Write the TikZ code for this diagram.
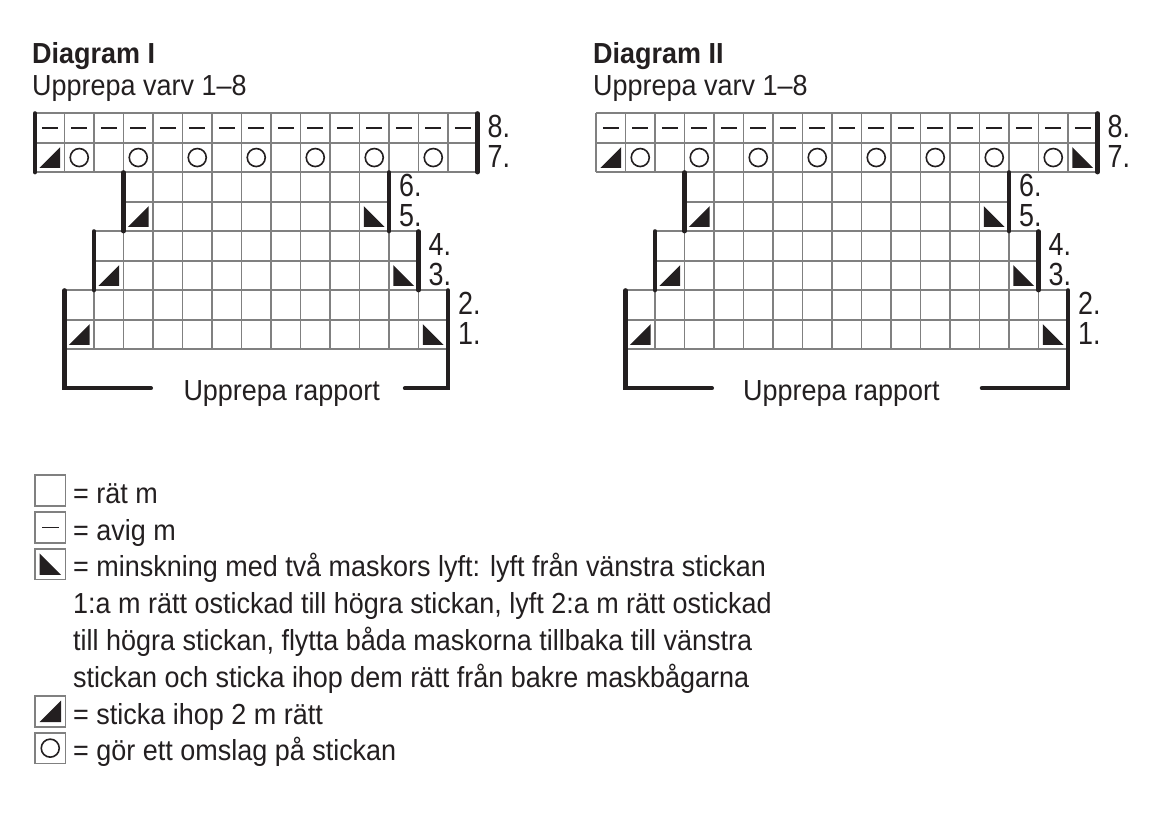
\documentclass[tikz,border=0pt]{standalone}
\usepackage{fontspec}
\setmainfont{Liberation Sans}[FakeStretch=0.93]
\newfontfamily\numfont{Liberation Sans}[FakeStretch=0.84]
\definecolor{ink}{HTML}{231F20}
\definecolor{gridgray}{HTML}{808080}
\tikzset{
  gridline/.style={draw=gridgray, line width=1.8pt},
  symline/.style={draw=ink, line width=1.6pt},
  symfill/.style={fill=ink},
  bar/.style={draw=ink, line width=4.2pt, line cap=round, line join=miter},
  txt/.style={inner sep=0pt, anchor=base west, text=ink, font=\fontsize{29}{35}\selectfont},
  btxt/.style={txt, font=\fontsize{29}{35}\selectfont\bfseries},
  rowlab/.style={inner sep=0pt, anchor=base west, text=ink, font=\numfont\fontsize{32}{36}\selectfont},
}
\newcommand\gridblock[4]{%
  \foreach \i in {#1,...,#2} \draw[gridline] (\i,#3) -- (\i,#4);
  \foreach \j in {#3,...,#4} \draw[gridline] (#1,\j) -- (#2,\j);
}
\newcommand\purl[2]{\draw[symline] (#1+0.23,#2+0.5) -- (#1+0.77,#2+0.5);}
\newcommand\yo[2]{\draw[symline] (#1+0.5,#2+0.5) circle[radius=9pt];}
\newcommand\ktog[2]{\fill[symfill] (#1+0.15,#2+0.85) -- (#1+0.85,#2+0.85) -- (#1+0.85,#2+0.15) -- cycle;}
\newcommand\sskd[2]{\fill[symfill] (#1+0.15,#2+0.15) -- (#1+0.15,#2+0.85) -- (#1+0.85,#2+0.85) -- cycle;}
\begin{document}
\begin{tikzpicture}[x=1pt,y=-1pt]
\useasboundingbox[fill=white] (0,0) rectangle (1154,819);

% ---------- Titles ----------
\node[btxt] (t1) at (32,63.3) {Diagram I};
\node[txt] (s1) at (32,95.7) {Upprepa varv 1–8};
\node[btxt] (t2) at (593,63.3) {Diagram II};
\node[txt] (s2) at (593,95.7) {Upprepa varv 1–8};

% ---------- Diagram I ----------
\begin{scope}[shift={(35,113.3)}, x=29.5pt, y=-29.5pt]
  \gridblock{0}{15}{0}{2}
  \gridblock{3}{12}{2}{4}
  \gridblock{2}{13}{4}{6}
  \gridblock{1}{14}{6}{8}
  \foreach \i in {0,...,14} {\purl{\i}{0}}
  \ktog{0}{1}
  \foreach \i in {1,3,...,13} {\yo{\i}{1}}
  \ktog{3}{3} \sskd{11}{3}
  \ktog{2}{5} \sskd{12}{5}
  \ktog{1}{7} \sskd{13}{7}
  \draw[bar] (0,0) -- (0,2);
  \draw[bar] (15,0) -- (15,2);
  \draw[bar] (3,2) -- (3,4);
  \draw[bar] (12,2) -- (12,4);
  \draw[bar] (2,4) -- (2,6);
  \draw[bar] (13,4) -- (13,6);
  \draw[bar] (1,6) -- (1,9.32) -- (3.93,9.32);
  \draw[bar] (14,6) -- (14,9.32) -- (12.54,9.32);
  \node[rowlab] (a8) at (15.34,0.83) {8.};
  \node[rowlab] (a7) at (15.34,1.83) {7.};
  \node[rowlab] (a6) at (12.34,2.83) {6.};
  \node[rowlab] (a5) at (12.34,3.83) {5.};
  \node[rowlab] (a4) at (13.34,4.83) {4.};
  \node[rowlab] (a3) at (13.34,5.83) {3.};
  \node[rowlab] (a2) at (14.34,6.83) {2.};
  \node[rowlab] (a1) at (14.34,7.83) {1.};
\end{scope}
\node[txt] (r1) at (183.3,400) {Upprepa rapport};

% ---------- Diagram II ----------
\begin{scope}[shift={(596,113.3)}, x=29.5pt, y=-29.5pt]
  \gridblock{0}{17}{0}{2}
  \gridblock{3}{14}{2}{4}
  \gridblock{2}{15}{4}{6}
  \gridblock{1}{16}{6}{8}
  \foreach \i in {0,...,16} {\purl{\i}{0}}
  \ktog{0}{1}
  \foreach \i in {1,3,...,15} {\yo{\i}{1}}
  \sskd{16}{1}
  \ktog{3}{3} \sskd{13}{3}
  \ktog{2}{5} \sskd{14}{5}
  \ktog{1}{7} \sskd{15}{7}
  \draw[bar] (17,0) -- (17,2);
  \draw[bar] (3,2) -- (3,4);
  \draw[bar] (14,2) -- (14,4);
  \draw[bar] (2,4) -- (2,6);
  \draw[bar] (15,4) -- (15,6);
  \draw[bar] (1,6) -- (1,9.32) -- (3.93,9.32);
  \draw[bar] (16,6) -- (16,9.32) -- (13.08,9.32);
  \node[rowlab] (b8) at (17.34,0.83) {8.};
  \node[rowlab] (b7) at (17.34,1.83) {7.};
  \node[rowlab] (b6) at (14.34,2.83) {6.};
  \node[rowlab] (b5) at (14.34,3.83) {5.};
  \node[rowlab] (b4) at (15.34,4.83) {4.};
  \node[rowlab] (b3) at (15.34,5.83) {3.};
  \node[rowlab] (b2) at (16.34,6.83) {2.};
  \node[rowlab] (b1) at (16.34,7.83) {1.};
\end{scope}
\node[txt] (r2) at (743,400) {Upprepa rapport};

% ---------- Legend ----------
\foreach \b in {503.3,540.1,576.9,724.1,760.9} {
  \draw[gridline] (35,\b-28) rectangle (65.5,\b+2.5);
}
% purl
\draw[symline] (42,527.35) -- (58.5,527.35);
% ssk
\fill[symfill] (39.5,553.4) -- (39.5,574.9) -- (61,574.9) -- cycle;
% k2tog
\fill[symfill] (39.5,722.1) -- (61,722.1) -- (61,700.6) -- cycle;
% yo
\draw[symline] (50.25,748.15) circle[radius=9pt];

\node[txt] (l1) at (73,503.3) {= rät m};
\node[txt] (l2) at (73,540.1) {= avig m};
\node[txt] (l3) at (73,576.9) {= minskning med två maskors lyft: lyft från vänstra stickan};
\node[txt] (l4) at (73,613.7) {1:a m rätt ostickad till högra stickan, lyft 2:a m rätt ostickad};
\node[txt] (l5) at (73,650.5) {till högra stickan, flytta båda maskorna tillbaka till vänstra};
\node[txt] (l6) at (73,687.3) {stickan och sticka ihop dem rätt från bakre maskbågarna};
\node[txt] (l7) at (73,724.1) {= sticka ihop 2 m rätt};
\node[txt] (l8) at (73,760.9) {= gör ett omslag på stickan};
\end{tikzpicture}
\end{document}
